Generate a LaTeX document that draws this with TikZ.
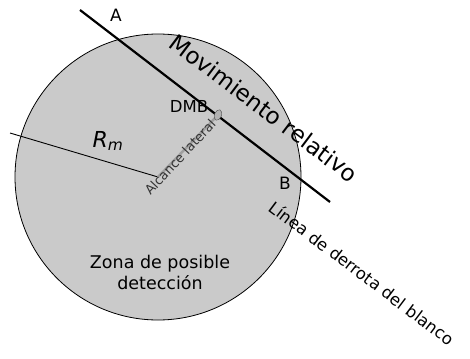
\documentclass[tikz,border=0pt]{standalone}
\usepackage{fontspec}
\setmainfont{DejaVu Sans}
\usetikzlibrary{shapes.geometric}
\definecolor{zone}{RGB}{202,202,202}
\tikzset{
  lbl/.style={inner sep=0pt, font=\fontsize{17}{19}\selectfont},
  thickline/.style={line width=2.2pt, black},
  thinline/.style={line width=0.9pt, black}
}
\begin{document}
\begin{tikzpicture}[x=1pt,y=-1pt]
\useasboundingbox (0,0) rectangle (470,358);
\coordinate (C) at (158,177);
\fill[zone] (C) circle (143);
\draw[line width=0.8pt] (C) circle (143);
\coordinate (Rs) at (10,133);
\draw[thinline] (Rs) -- (C);
\coordinate (A0) at (80,10);
\coordinate (B0) at (330,202);
\coordinate (D) at (218,115);
\draw[line width=2.5pt, gray!75] (C) -- (D);
\draw[thickline] (A0) -- (B0);
\node[ellipse, draw=gray!60!black, fill=gray!60, minimum width=7pt, minimum height=11pt, inner sep=0pt, rotate=-20] (dmbpt) at (D) {};
\node[lbl] (A) at (116,15) {A};
\node[lbl] (B) at (285,183) {B};
\node[lbl, font=\fontsize{16.5}{18}\selectfont] (dmb) at (189,106) {DMB};
\node[lbl, font=\fontsize{22}{24}\selectfont] (rm) at (108,141) {\textit{R}\textsubscript{\textit{m}}};
\node[lbl, font=\fontsize{13}{15}\selectfont, text=black!80, rotate=47] (alc) at (180,157) {Alcance lateral};
\node[lbl, font=\fontsize{23}{25}\selectfont, rotate=-37] (mov) at (264,108) {Movimiento relativo};
\node[lbl, font=\fontsize{16.5}{18}\selectfont, rotate=-37] (lin) at (362,273) {Línea de derrota del blanco};
\node[lbl, align=center, font=\fontsize{17.5}{21}\selectfont] (zona) at (160,272) {Zona de posible\\detección};
\end{tikzpicture}
\end{document}
